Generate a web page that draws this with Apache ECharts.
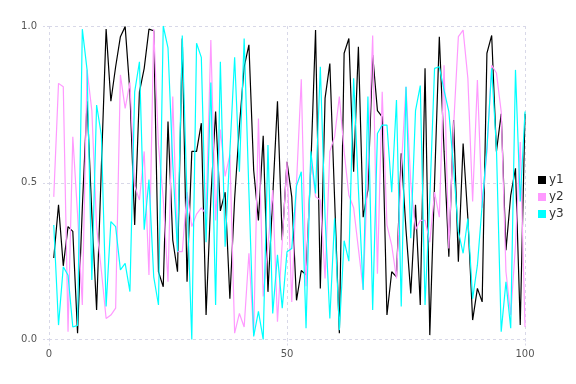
<!DOCTYPE html>
<html>
<head>
<meta charset="utf-8">
<script src="https://cdn.jsdelivr.net/npm/echarts@6/dist/echarts.min.js"></script>
<style>html,body{margin:0;padding:0;background:#fff;}#c{width:576px;height:384px;}</style>
</head>
<body>
<div id="c"></div>
<script>
const xTicks = [0, 50, 100];
const yTicks = [0.0, 0.5, 1.0];
const seriesNames = ['y1', 'y2', 'y3'];
const y1 = [0.26,0.43,0.235,0.36,0.345,0.02,0.42,0.76,0.4,0.094,
0.55,0.99,0.76,0.87,0.966,0.998,0.79,0.365,0.79,0.865,
0.99,0.985,0.216,0.168,0.695,0.317,0.216,0.96,0.184,0.6,
0.6,0.69,0.078,0.45,0.727,0.41,0.47,0.13,0.45,0.68,
0.87,0.94,0.54,0.38,0.65,0.152,0.455,0.76,0.317,0.567,
0.455,0.125,0.22,0.206,0.55,0.987,0.163,0.77,0.88,0.45,
0.02,0.913,0.96,0.535,0.934,0.39,0.477,0.907,0.73,0.71,
0.078,0.216,0.2,0.594,0.35,0.147,0.43,0.11,0.865,0.014,
0.5,0.966,0.6,0.264,0.7,0.248,0.625,0.386,0.062,0.163,
0.12,0.913,0.97,0.6,0.72,0.285,0.46,0.546,0.046,0.72];
const y2 = [0.455,0.817,0.806,0.025,0.647,0.4,0.11,0.86,0.73,0.36,
0.22,0.067,0.078,0.1,0.844,0.737,0.82,0.49,0.445,0.6,
0.206,0.99,0.62,0.45,0.184,0.775,0.28,0.28,0.47,0.36,
0.4,0.42,0.4,0.955,0.38,0.67,0.52,0.59,0.02,0.083,
0.04,0.275,0.014,0.705,0.137,0.3,0.477,0.057,0.31,0.567,
0.12,0.5,0.83,0.17,0.58,0.455,0.445,0.195,0.6,0.647,
0.775,0.6,0.46,0.42,0.29,0.16,0.55,0.97,0.21,0.79,
0.365,0.3,0.195,0.545,0.806,0.5,0.35,0.38,0.38,0.31,
0.47,0.39,0.875,0.29,0.68,0.966,0.987,0.833,0.44,0.828,
0.42,0.6,0.875,0.85,0.727,0.216,0.078,0.3,0.63,0.04];
const y3 = [0.365,0.046,0.232,0.205,0.04,0.045,0.99,0.86,0.19,0.748,
0.652,0.105,0.376,0.36,0.222,0.243,0.153,0.79,0.886,0.35,
0.51,0.2,0.11,1.0,0.93,0.56,0.28,0.97,0.45,0.0,
0.945,0.9,0.31,0.82,0.11,0.886,0.296,0.6,0.9,0.535,
0.96,0.47,0.01,0.09,0.0,0.62,0.083,0.27,0.1,0.28,
0.29,0.49,0.535,0.036,0.6,0.466,0.87,0.39,0.067,0.387,
0.03,0.315,0.25,0.833,0.48,0.158,0.775,0.094,0.657,0.684,
0.684,0.47,0.764,0.105,0.806,0.323,0.73,0.81,0.11,0.45,
0.865,0.87,0.795,0.727,0.546,0.344,0.275,0.386,0.13,0.237,
0.43,0.61,0.865,0.61,0.025,0.184,0.036,0.86,0.44,0.727];
const colors = ['#000000', '#ff99ff', '#00ffff'];

const all = [y1, y2, y3];
const chart = echarts.init(document.getElementById('c'), null, {renderer: 'canvas'});
const gridLine = {show: true, lineStyle: {color: '#d8d8e8', type: [3, 3], width: 1}};
chart.setOption({
  animation: false,
  backgroundColor: '#ffffff',
  grid: {left: 49, right: 51, top: 26, bottom: 44.5, containLabel: false},
  legend: {
    orient: 'vertical', left: 533, top: 169,
    itemWidth: 8, itemHeight: 8, itemGap: 5, icon: 'rect',
    textStyle: {fontSize: 12, color: '#333', fontFamily: 'DejaVu Sans', padding: [0,0,0,-2]},
    data: seriesNames
  },
  xAxis: {
    type: 'value', min: xTicks[0], max: xTicks[xTicks.length - 1], interval: xTicks[1] - xTicks[0],
    axisLine: {show: false},
    axisTick: {show: true, length: 6, inside: false, lineStyle: {color: '#d8d8e8', type: [2, 2]}},
    splitLine: gridLine,
    axisLabel: {color: '#555', fontSize: 10, fontFamily: 'DejaVu Sans', margin: 10}
  },
  yAxis: {
    type: 'value', min: yTicks[0], max: yTicks[yTicks.length - 1], interval: yTicks[1] - yTicks[0],
    axisLine: {show: false},
    axisTick: {show: true, length: 8, lineStyle: {color: '#d8d8e8', type: [2, 2]}},
    splitLine: gridLine,
    axisLabel: {color: '#555', fontSize: 10, fontFamily: 'DejaVu Sans', margin: 12, formatter: v => v.toFixed(1)}
  },
  series: all.map((arr, k) => ({
    name: seriesNames[k], type: 'line', showSymbol: false, symbol: 'none',
    data: arr.map((v, i) => [i + 1, v]),
    lineStyle: {color: colors[k], width: 1.2},
    itemStyle: {color: colors[k]},
    z: 2 + k
  }))
});
</script>
</body>
</html>
